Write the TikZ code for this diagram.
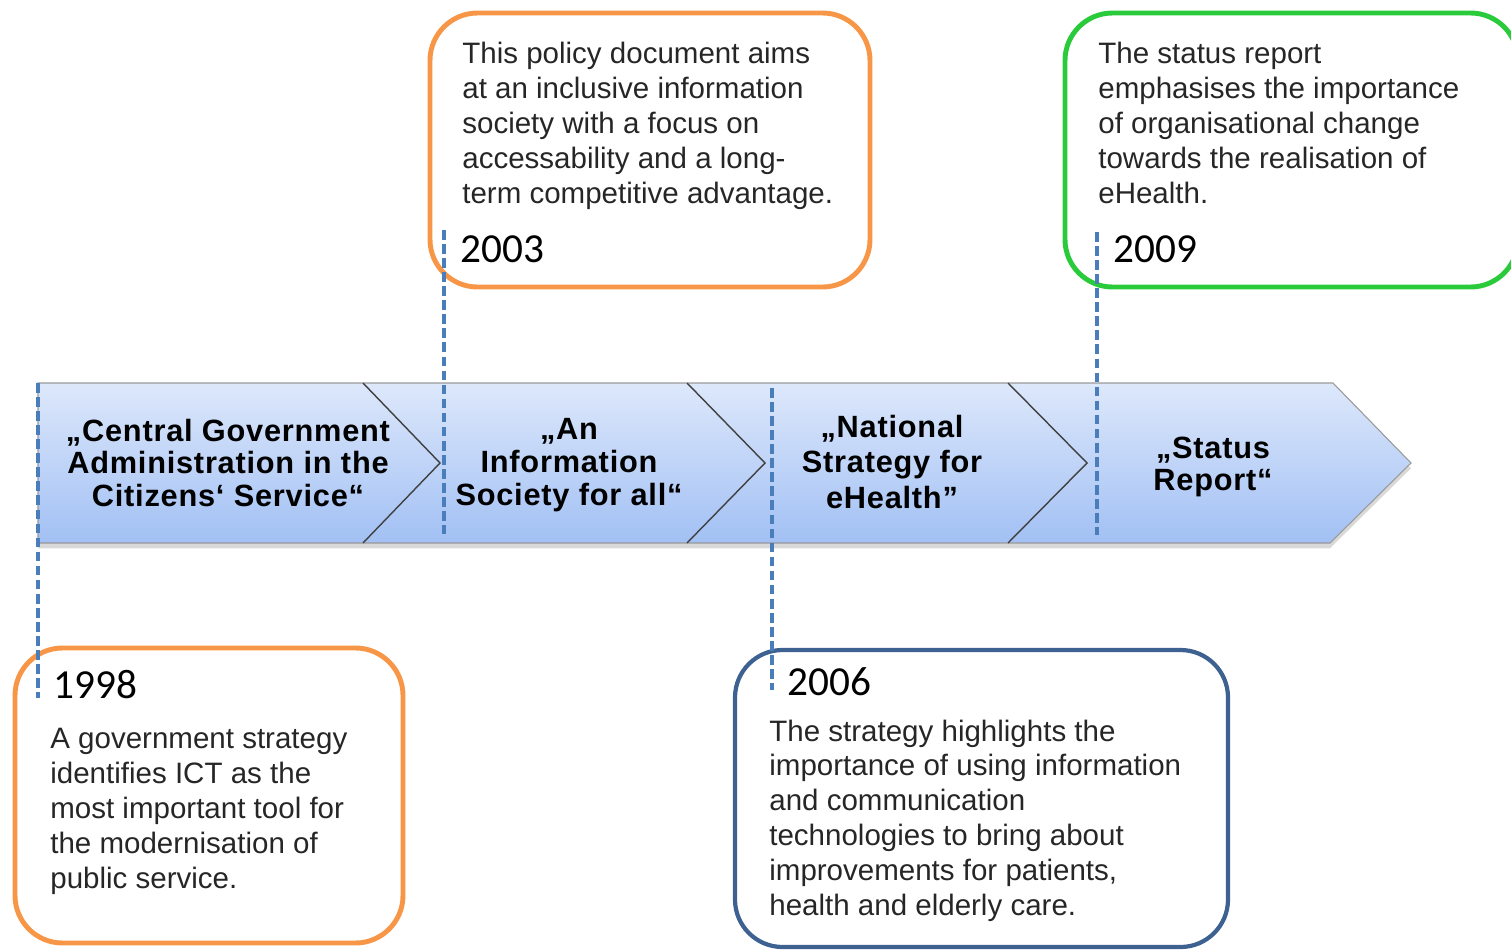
\documentclass[tikz,border=0pt]{standalone}
\usepackage{fontspec}
\setmainfont{Liberation Sans}
\newfontfamily\yearfont{Carlito}
\newfontfamily\bandfont[LetterSpace=2.5]{Liberation Sans Bold}
\usetikzlibrary{shadows}

\definecolor{boxorange}{HTML}{F79646}
\definecolor{boxgreen}{HTML}{2ACB3B}
\definecolor{boxblue}{HTML}{3D6292}
\definecolor{dashblue}{HTML}{4A7EBB}
\definecolor{bandtop}{HTML}{DDE8FB}
\definecolor{bandbottom}{HTML}{A2C0F4}

\tikzset{
    infobox/.style={line width=2.8pt, rounded corners=0.95cm},
    infotext/.style={anchor=base west, inner sep=0pt, align=left, text=black!85,
        font=\fontsize{16.8}{19.8}\selectfont},
    yeartext/.style={anchor=base west, inner sep=0pt, font=\yearfont\fontsize{23.5}{28}\selectfont},
    bandtext/.style={inner sep=0pt, align=center, font=\bandfont\fontsize{17.5}{18.7}\selectfont},
    yearline/.style={dashblue, line width=2.4pt, dash pattern=on 5.5pt off 2.5pt},
    chevronline/.style={black!75, line width=0.8pt}
}

\begin{document}
\begin{tikzpicture}[x=0.02cm, y=-0.02cm]
        % page size
        \useasboundingbox (0,0) rectangle (1511,950);
        % draw the process band
        \path[draw=black!40, line width=0.6pt, top color=bandtop, bottom color=bandbottom,
            drop shadow={shadow xshift=0pt, shadow yshift=-3pt, opacity=0.3}]
            (38,383) -- (1333,383) -- (1411,463) -- (1330,543) -- (38,543) -- cycle;
        % draw the chevron edges
        \draw[chevronline] (363,383) -- (440,463) -- (363,543);
        \draw[chevronline] (687,383) -- (765,463) -- (687,543);
        \draw[chevronline] (1008,383) -- (1087,463) -- (1008,543);
        % titles of the documents
        \node[bandtext] (central) at (228,463) {„Central Government\\Administration in the\\Citizens‘ Service“};
        \node[bandtext] (society) at (569,465) {„An\\Information\\Society for all“};
        \node[bandtext, font=\bandfont\fontsize{17.5}{20}\selectfont] (national) at (892,462) {„National\\Strategy for\\eHealth”};
        \node[bandtext] (status) at (1213,467) {„Status\\Report“};
        % draw the boxes
        \draw[infobox, boxorange] (430,13) rectangle (870,287);
        \draw[infobox, boxgreen] (1065,13) rectangle (1518,287);
        \draw[infobox, boxorange] (15,648) rectangle (403,943);
        \draw[infobox, boxblue, line width=2.4pt] (735,650) rectangle (1228,947);
        % texts of the boxes (anchored at the last line)
        \node[infotext] (text2003) at (462,203) {This policy document aims\\at an inclusive information\\society with a focus on\\accessability and a long-\\term competitive advantage.};
        \node[yeartext] (year2003) at (460,262) {2003};
        \node[infotext] (text2009) at (1098,203) {The status report\\emphasises the importance\\of organisational change\\towards the realisation of\\eHealth.};
        \node[yeartext] (year2009) at (1113,262) {2009};
        \node[yeartext] (year1998) at (53,698) {1998};
        \node[infotext] (text1998) at (50,888) {A government strategy\\identifies ICT as the\\most important tool for\\the modernisation of\\public service.};
        \node[yeartext] (year2006) at (787,695) {2006};
        \node[infotext] (text2006) at (769,915) {The strategy highlights the\\importance of using information\\and communication\\technologies to bring about\\improvements for patients,\\health and elderly care.};
        % draw the dashed year lines
        \coordinate (top1998) at (38,383);
        \coordinate (end1998) at (38,698);
        \coordinate (top2003) at (444,230);
        \coordinate (end2003) at (444,534);
        \coordinate (top2006) at (772,388);
        \coordinate (end2006) at (772,690);
        \coordinate (top2009) at (1097,232);
        \coordinate (end2009) at (1097,535);
        \draw[yearline] (top1998) -- (end1998);
        \draw[yearline] (top2003) -- (end2003);
        \draw[yearline] (top2006) -- (end2006);
        \draw[yearline] (top2009) -- (end2009);
    \end{tikzpicture}
\end{document}
